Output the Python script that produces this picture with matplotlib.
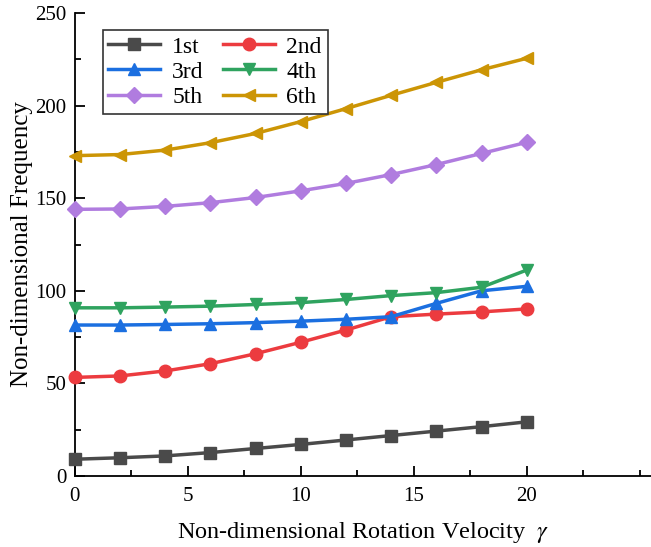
import numpy as np
import matplotlib.pyplot as plt
from matplotlib.ticker import MultipleLocator

plt.rcParams['font.family'] = ['Liberation Serif', 'DejaVu Serif']
plt.rcParams['mathtext.fontset'] = 'stix'

# rotation velocity gamma
gamma = [0, 2, 4, 6, 8, 10, 12, 14, 16, 18, 20]

mode1 = [9.0, 9.8, 10.8, 12.6, 14.8, 17.0, 19.4, 21.8, 24.2, 26.6, 29.2]
mode2 = [53.2, 54.0, 56.7, 60.6, 66.0, 72.2, 78.8, 86.0, 87.4, 88.6, 90.2]
mode3 = [81.5, 81.5, 81.8, 82.2, 82.8, 83.6, 84.6, 86.0, 93.2, 100.0, 102.4]
mode4 = [90.8, 90.8, 91.2, 91.7, 92.6, 93.6, 95.3, 97.4, 99.0, 101.9, 111.2]
mode5 = [144.0, 144.2, 145.6, 147.6, 150.4, 154.0, 158.0, 162.8, 168.2, 174.2, 180.2]
mode6 = [173.0, 173.6, 176.0, 180.0, 185.0, 191.4, 198.4, 205.6, 212.6, 219.4, 225.6]

labels = ['1st', '2nd', '3rd', '4th', '5th', '6th']
colors = ['#4a4a4a', '#ec3b3f', '#1b6fe0', '#2fa35f', '#b07cdf', '#cc9505']
markers = ['s', 'o', '^', 'v', 'D', '<']
sizes = [8, 9, 9, 9, 8, 9]

fig = plt.figure(figsize=(6.51, 5.47), dpi=100)
ax = fig.add_axes([0.115, 0.130, 0.885, 0.846])

series = [mode1, mode2, mode3, mode4, mode5, mode6]
handles = []
for y, lab, c, m, s in zip(series, labels, colors, markers, sizes):
    h, = ax.plot(gamma, y, color=c, marker=m, markersize=s, linewidth=2.5,
                 label=lab, clip_on=False, zorder=3)
    handles.append(h)

ax.set_xlim(0, 25.5)
ax.set_ylim(0, 250)
ax.set_xticks([0, 5, 10, 15, 20])
ax.xaxis.set_minor_locator(MultipleLocator(2.5))
ax.yaxis.set_major_locator(MultipleLocator(50))
ax.yaxis.set_minor_locator(MultipleLocator(25))
ax.tick_params(which='both', direction='in', width=1.3, labelsize=15)
ax.tick_params(which='major', length=7)
ax.tick_params(which='minor', length=4)
ax.tick_params(axis='x', pad=8)
ax.tick_params(axis='y', pad=6)
for side in ['top', 'right']:
    ax.spines[side].set_visible(False)
for side in ['left', 'bottom']:
    ax.spines[side].set_linewidth(1.3)

ax.set_xlabel(r'Non-dimensional Rotation Velocity  $\mathit{\gamma}$', fontsize=17.5, labelpad=10)
ax.set_ylabel('Non-dimensional Frequency', fontsize=18, labelpad=2)

# row-wise order in a 2-column legend
order = [0, 2, 4, 1, 3, 5]
leg = ax.legend([handles[i] for i in order], [labels[i] for i in order],
                ncol=2, loc='upper left', bbox_to_anchor=(0.048, 0.963),
                fontsize=17, frameon=True, fancybox=False, edgecolor='#333333',
                handlelength=2.2, columnspacing=0.8, labelspacing=0.15,
                handletextpad=0.5, borderpad=0.25, borderaxespad=0,
                framealpha=1)
leg.get_frame().set_linewidth(1.2)

fig.savefig('out.png', dpi=100)
